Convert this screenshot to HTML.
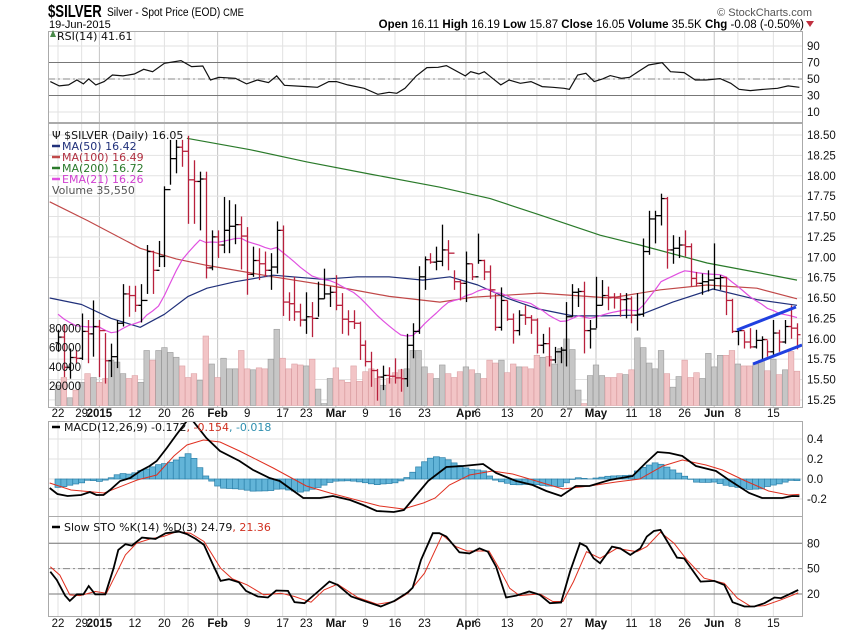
<!DOCTYPE html>
<html><head><meta charset="utf-8"><style>
html,body{margin:0;padding:0;background:#fff;}
svg{display:block;font-family:"Liberation Sans",sans-serif;}
.ax{font-size:11.5px;fill:#111;}
.lg{font-family:"DejaVu Sans",sans-serif;font-size:11px;}
</style></head><body>
<svg id="chart" width="850" height="633" viewBox="0 0 850 633" xmlns="http://www.w3.org/2000/svg">
<defs>
<clipPath id="cRsi"><rect x="48" y="31" width="754" height="91"/></clipPath>
<clipPath id="cMain"><rect x="48" y="123" width="754" height="284"/></clipPath>
<clipPath id="cMacd"><rect x="48" y="421" width="754" height="95"/></clipPath>
<clipPath id="cSto"><rect x="48" y="516" width="754" height="100"/></clipPath>
</defs>
<g>
<g transform="translate(48,0) scale(0.73,1)"><text x="0" y="17" font-size="18" font-weight="bold">$SILVER</text></g>
<g transform="translate(107,0) scale(0.85,1)"><text x="0" y="16" font-size="12">Silver - Spot Price (EOD) <tspan font-size="11">CME</tspan></text></g>
<text x="49" y="28" font-size="11">19-Jun-2015</text>
<text x="812" y="16" font-size="11" fill="#555" text-anchor="end">© StockCharts.com</text>
<text x="804" y="28" font-size="11.5" text-anchor="end"><tspan font-weight="bold">Open</tspan> 16.11 <tspan font-weight="bold">High</tspan> 16.19 <tspan font-weight="bold">Low</tspan> 15.87 <tspan font-weight="bold">Close</tspan> 16.05 <tspan font-weight="bold">Volume</tspan> 35.5K <tspan font-weight="bold">Chg</tspan> -0.08 (-0.50%)</text>
<polygon points="806,21 814,21 810,27" fill="#c03040"/>
</g>
<g id="layer"></g>
</svg>
<script>
const highs=[16.11,16.17,15.88,15.86,16.31,16.23,16.47,16.23,16.07,15.94,16.23,16.67,16.65,16.65,16.67,17.15,17.08,17.20,17.87,18.44,18.44,18.44,18.49,18.19,18.05,18.05,17.33,17.33,17.74,17.70,
17.65,17.50,17.37,17.13,17.11,17.07,17.05,17.44,17.39,16.57,16.76,16.43,16.57,16.45,16.70,16.86,16.64,16.78,16.56,16.35,16.35,16.21,15.98,15.84,15.63,15.67,15.65,15.76,15.63,16.06,16.19,
16.89,17.01,17.05,17.13,17.40,17.21,16.84,16.72,17.07,16.92,17.29,16.97,16.90,16.55,16.63,16.47,16.31,16.35,16.41,16.29,16.25,16.06,16.14,15.90,15.90,16.45,16.67,16.62,16.70,16.23,16.76,16.72,16.64,
16.56,16.56,16.56,16.52,16.56,17.23,17.57,17.57,17.78,17.74,17.27,17.25,17.33,17.17,16.82,16.80,16.84,17.17,16.78,16.76,16.49,16.11,16.09,16.13,16.11,16.03,15.98,16.23,16.11,16.23,16.41,16.19];
const lows=[15.84,15.53,15.51,15.70,15.74,15.70,15.78,15.53,15.45,15.53,15.64,16.15,16.27,16.33,16.20,16.55,16.55,16.88,16.88,17.89,18.03,18.11,17.41,17.41,17.33,16.74,16.84,16.99,17.05,17.05,
17.16,16.85,16.54,16.76,16.72,16.76,16.60,16.80,16.28,16.22,16.22,16.15,16.06,16.02,16.27,16.49,16.39,16.35,16.06,16.04,16.12,15.74,15.66,15.41,15.24,15.37,15.45,15.45,15.35,15.41,15.76,
16.06,16.60,16.92,16.84,16.89,16.84,16.60,16.47,16.45,16.72,16.92,16.72,16.49,16.10,16.10,16.22,15.94,16.04,16.17,16.06,15.82,15.82,15.66,15.70,15.70,15.66,16.27,16.39,15.82,15.88,16.13,16.41,16.35,
16.37,16.27,16.25,16.19,16.10,16.27,17.03,17.17,17.39,16.86,16.92,16.99,17.01,16.64,16.64,16.54,16.58,16.60,16.60,16.29,16.07,15.92,15.88,15.88,15.88,15.74,15.78,15.78,15.84,15.94,16.00,15.87];
const closes=[16.02,15.65,15.77,15.76,16.09,16.06,16.15,16.10,15.73,15.78,16.19,16.55,16.53,16.41,16.47,17.07,16.84,17.01,17.83,18.21,18.35,18.30,17.95,17.93,17.96,16.87,17.25,17.15,17.33,17.38,
17.40,17.26,16.79,16.96,16.92,16.84,16.88,17.33,16.45,16.43,16.33,16.23,16.27,16.25,16.49,16.55,16.57,16.41,16.24,16.21,16.19,15.92,15.72,15.61,15.53,15.55,15.54,15.52,15.51,15.92,16.09,
16.76,16.97,16.94,16.95,17.09,17.05,16.70,16.68,16.92,16.76,16.96,16.82,16.60,16.14,16.47,16.24,16.10,16.29,16.26,16.23,15.92,15.94,15.74,15.84,15.86,16.27,16.57,16.58,16.10,16.12,16.41,16.53,16.51,
16.50,16.48,16.49,16.29,16.30,17.07,17.47,17.51,17.72,17.09,17.11,17.15,17.13,16.74,16.68,16.70,16.72,16.74,16.75,16.47,16.09,16.10,15.96,15.90,15.98,15.99,15.84,16.07,15.96,16.15,16.13,16.05];
const volumes=[21,29,8,16,24,33,29,24,28,47,45,33,28,31,24,57,47,57,60,55,50,41,29,33,26,72,43,29,49,38,
38,57,38,37,39,38,48,79,49,38,43,42,41,48,17,2,28,39,26,24,41,25,35,38,28,21,28,34,37,38,57,
57,40,33,28,42,33,29,35,40,37,33,28,47,44,47,34,43,40,40,38,52,50,51,43,59,69,58,16,2,31,42,31,29,
29,33,32,37,70,60,44,38,57,33,19,30,47,29,34,28,54,40,52,52,57,43,41,41,43,47,36,48,32,37,56,35.55];
const ma50Idx=[-1.4,4,9,13.9,18,22,25.2,30,36.4,44.8,50.6,56,61.7,66.3,71,75.9,81,87.1,92,98.4,104,110.8,118.2,125];
const ma50Val=[16.50,16.42,16.25,16.14,16.30,16.52,16.62,16.70,16.78,16.73,16.76,16.76,16.72,16.76,16.66,16.50,16.37,16.28,16.28,16.29,16.45,16.61,16.48,16.41];
const ma100Idx=[-1.4,5,13.9,20,25.2,36.4,47.7,56,64.6,70.2,81.5,93.4,101.9,109.8,118.2,125];
const ma100Val=[17.68,17.45,17.11,16.98,16.90,16.76,16.63,16.52,16.45,16.51,16.56,16.50,16.60,16.66,16.62,16.49];
const ma200Idx=[21.8,32.5,42.1,52.8,64.6,73.1,81.5,91.7,98.4,109.8,117.1,125];
const ma200Val=[18.46,18.32,18.17,18.02,17.86,17.72,17.52,17.27,17.15,16.93,16.83,16.72];
const emaSeed=16.33;
const rsiIdx=[-1.3,0.2,1.8,3.2,4.3,5.2,6.4,7.8,9.2,11.0,12.9,14.5,16.0,18.0,20.8,22.6,24.5,25.8,27.2,30.0,31.9,33.7,35.6,37.0,38.3,42.1,43.9,45.8,47.1,49.0,51.8,54.1,56.0,57.3,58.7,60.6,62.4,64.3,65.7,68.9,69.8,71.2,72.1,73.5,74.9,76.3,78.2,80.0,81.9,83.7,85.6,86.5,87.9,89.3,90.7,92.1,93.4,95.3,96.7,98.1,99.9,102.2,103.6,105.9,107.8,109.6,112.0,113.8,115.2,117.1,119.4,121.7,123.5,125.4];
const rsiVal=[46.8,41.6,42.8,48.8,44.0,50.1,42.8,46.8,54.9,53.7,56.1,61.8,58.9,69.0,72.3,65.0,65.8,48.8,52.1,50.9,44.0,48.8,45.6,53.7,42.4,40.8,40.0,46.8,46.8,42.8,38.7,31.5,33.9,32.7,38.7,53.7,63.8,64.2,66.2,53.7,58.9,56.1,58.9,50.9,42.8,48.8,44.8,46.8,40.8,40.0,38.7,37.5,54.9,56.9,46.8,50.1,54.1,50.9,52.1,58.9,67.0,69.8,58.9,57.7,48.8,48.8,50.5,44.8,37.5,35.9,37.5,38.7,41.6,40.0];
const macdIdx=[-1.4,-0.1,1.6,3.9,5.4,6.5,7.7,8.8,10.5,12.2,13.9,15.5,16.7,18.4,20.0,22.3,25.1,27.4,30.7,33.0,35.8,37.5,41.5,44.3,46.5,49.4,51.6,53.9,56.8,58.5,60.2,62.6,65.7,68.5,70.2,71.9,74.1,77.5,80.3,82.6,85.1,87.6,89.9,93.3,97.2,99.4,101.4,103.4,105.6,107.9,111.3,113.5,116.9,119.1,122.5,124.2,125.4];
const macdVal=[-0.09,-0.15,-0.17,-0.16,-0.13,-0.16,-0.16,-0.11,-0.02,0.01,0.08,0.13,0.18,0.31,0.44,0.62,0.41,0.28,0.18,0.09,0.01,-0.02,-0.19,-0.19,-0.17,-0.21,-0.26,-0.32,-0.33,-0.31,-0.19,-0.02,0.12,0.13,0.14,0.15,0.06,-0.02,-0.06,-0.12,-0.17,-0.07,-0.07,-0.01,0.03,0.16,0.27,0.26,0.23,0.13,0.08,-0.01,-0.14,-0.19,-0.19,-0.17,-0.172];
const sigIdx=[-1.4,2.2,7.8,13.4,16.7,19.6,21.8,24.6,27.4,30.7,36.4,42.0,46.0,50.5,54.4,58.4,61.8,63.8,66.2,69.6,73.5,76.9,80.9,85.4,89.9,94.4,98.4,102.3,105.6,109.6,112.4,116.3,120.2,123.6,125.4];
const sigVal=[-0.04,-0.11,-0.14,-0.01,0.04,0.23,0.34,0.39,0.37,0.28,0.11,-0.07,-0.14,-0.21,-0.27,-0.30,-0.24,-0.19,-0.06,0.04,0.08,0.05,-0.02,-0.10,-0.07,-0.03,0.00,0.13,0.19,0.14,0.09,-0.02,-0.12,-0.16,-0.154];
const kIdx=[-1.3,-0.2,1.2,2.0,3.2,4.3,5.2,6.3,8.0,9.4,10.2,11.4,12.5,14.2,16.5,18.2,20.5,21.9,23.3,24.7,26.1,27.5,28.9,30.6,31.8,33.8,35.5,36.9,38.9,40.0,41.7,44.0,45.9,47.3,49.6,52.4,54.6,56.9,59.2,60.0,61.4,63.4,64.5,65.7,67.9,69.6,71.3,72.7,74.1,75.8,77.5,79.7,81.5,83.2,85.1,86.6,88.3,89.4,90.6,91.7,93.7,95.1,96.8,98.5,99.6,100.8,101.9,104.7,105.9,108.7,111.0,112.7,114.1,116.1,117.8,119.5,121.2,122.3,123.5,125.2];
const kVal=[46.4,36.6,18.1,11.8,19.7,19.7,29.5,19.7,19.7,50.5,72.2,78.9,77.3,86.8,85.2,91.9,93.9,90.7,85.2,78.1,56.4,35.5,37.5,33.9,23.7,17.0,15.8,24.1,23.7,10.3,9.1,22.9,34.7,30.8,17.0,10.3,5.2,11.8,22.1,27.6,60.3,91.9,91.9,87.9,69.3,68.1,74.0,70.1,52.3,15.8,18.1,22.9,19.0,9.1,9.9,46.4,80.1,76.1,62.3,56.4,76.1,74.0,66.3,74.0,87.9,94.5,95.8,63.1,62.3,34.7,35.5,30.8,10.3,5.2,5.2,9.1,15.8,15.1,19.0,24.79];
const dIdx=[-1.3,0.3,2.0,3.7,6.3,8.2,9.9,11.4,13.3,15.6,17.8,20.1,22.4,24.7,27.5,29.5,32.0,34.8,37.7,40.0,42.8,45.0,47.3,50.7,54.0,56.9,59.2,62.0,65.0,67.3,69.2,71.3,72.9,74.6,76.4,78.1,81.5,83.7,85.4,87.2,89.4,91.7,94.5,97.9,99.6,101.9,104.2,106.4,109.3,112.7,114.9,117.2,119.5,122.3,125.2];
const dVal=[52.3,42.4,18.9,18.1,22.9,20.9,44.6,66.3,80.1,85.2,88.0,93.9,91.9,82.1,50.5,37.9,30.8,19.0,20.9,17.0,10.3,24.9,31.6,15.8,7.9,11.1,20.9,44.6,90.0,76.1,70.9,70.9,70.9,50.5,26.8,18.1,20.1,11.1,11.1,34.7,70.1,62.3,74.0,70.1,76.1,93.1,80.1,60.3,38.7,32.7,15.1,5.2,6.3,13.1,21.36];
const tickIdx=[0,4,7,13,18,22,27,32,38,42,47,52,57,62,69,71,76,81,86,91,97,101,106,111,115,121];
const tickLbl=["22","29","2015","12","20","26","Feb","9","17","23","Mar","9","16","23","Apr","6","13","20","27","May","11","18","26","Jun","8","15"];
const tickMajor=[0,0,1,0,0,0,1,0,0,0,1,0,0,0,1,0,0,0,0,1,0,0,0,1,0,0];
const priceTicks=[18.50,18.25,18.00,17.75,17.50,17.25,17.00,16.75,16.50,16.25,16.00,15.75,15.50,15.25];
const volTicks=[80000,60000,40000,20000];
const rsiTicks=[90,70,50,30,10];
const macdTicks=[0.4,0.2,0.0,-0.2];
const stoTicks=[80,50,20];

const NS="http://www.w3.org/2000/svg";
const L=48,R=802;
const X=i=>58+i*5.912;
const PY=p=>135+(18.5-p)*81.5;
const VY=v=>405.5-v*0.965;
const RY=v=>46+(90-v)*0.825;
const MY=v=>479-v*100;
const SY=v=>594-(v-20)*0.845;
const layer=document.getElementById('layer');
function mk(tag,attrs,parent){const e=document.createElementNS(NS,tag);for(const k in attrs)e.setAttribute(k,attrs[k]);(parent||layer).appendChild(e);return e;}
function interp(xs,ys,x){if(x<=xs[0])return ys[0];for(let j=1;j<xs.length;j++){if(x<=xs[j]){const t=(x-xs[j-1])/(xs[j]-xs[j-1]);return ys[j-1]+t*(ys[j]-ys[j-1]);}}return ys[ys.length-1];}
function pts(xs,ys,fy){return xs.map((x,j)=>X(x).toFixed(1)+','+fy(ys[j]).toFixed(1)).join(' ');}

const panels=[["rsi-panel",31,91,"cRsi"],["price-panel",123,284,"cMain"],["macd-panel",421,95,"cMacd"],["sto-panel",516,100,"cSto"]];
const pg={};
panels.forEach(p=>{
  const r=mk('rect',{x:L,y:p[1],width:R-L,height:p[2],fill:'#fff',stroke:'none'});
  
  
  const g=mk('g',{'clip-path':'url(#'+p[3]+')'});
  
  
  pg[p[0]]=g;
  tickIdx.forEach((ti,j)=>{
    const v=mk('line',{x1:X(ti),x2:X(ti),y1:p[1],y2:p[1]+p[2],stroke:tickMajor[j]?'#c4c4c4':'#e2e2e2','stroke-width':1},g);
    
    
  });
});
function hgrid(g,ticks,fy,fmt,name){
  ticks.forEach(t=>{
    const y=fy(t);
    const l=mk('line',{x1:L,x2:R,y1:y,y2:y,stroke:'#e2e2e2'},g);
    
    
    const tx=mk('text',{x:807,y:y+4,class:'ax'});
    tx.textContent=fmt(t);
    
    
  });
}
hgrid(pg['rsi-panel'],rsiTicks,RY,t=>String(t),'rsi-y');
hgrid(pg['price-panel'],priceTicks,PY,t=>t.toFixed(2),'price-y');
hgrid(pg['macd-panel'],macdTicks,MY,t=>t.toFixed(1),'macd-y');
hgrid(pg['sto-panel'],stoTicks,SY,t=>String(t),'sto-y');

[[70,'solid'],[30,'solid'],[50,'dash']].forEach(a=>{
  const l=mk('line',{x1:L,x2:R,y1:RY(a[0]),y2:RY(a[0]),stroke:a[1]==='dash'?'#888':'#777','stroke-width':1,'stroke-dasharray':a[1]==='dash'?'7,3,2,3':'none'},pg['rsi-panel']);
  
  
});
const rsiLine=mk('polyline',{points:pts(rsiIdx,rsiVal,RY),fill:'none',stroke:'#111','stroke-width':1.2},pg['rsi-panel']);



const gp=pg['price-panel'];
volumes.forEach((v,i)=>{
  const up=i===0?true:closes[i]>=closes[i-1];
  const y=VY(v);
  const b=mk('rect',{x:X(i)-2.8,y:y,width:5.6,height:405.5-y,fill:up?'#c6c6c6':'#f2c4c6',stroke:up?'#9a9a9a':'#dca0a4','stroke-width':0.6},gp);
  
  
});
volTicks.forEach(t=>{
  const tx=mk('text',{x:49,y:VY(t/1000)+4,class:'ax'});
  tx.textContent=String(t);
  
  
});
function maLine(xs,ys,col,name){const l=mk('polyline',{points:pts(xs,ys,PY),fill:'none',stroke:col,'stroke-width':1.2,'stroke-linejoin':'round'},gp);
  
  }
maLine(ma200Idx,ma200Val,'#2a7a2a','ma200-line');
maLine(ma100Idx,ma100Val,'#c04848','ma100-line');
maLine(ma50Idx,ma50Val,'#20307a','ma50-line');
const k=2/22;let e=emaSeed;const emaIdx=[],emaVal=[];
closes.forEach((c,i)=>{e=c*k+e*(1-k);emaIdx.push(i);emaVal.push(e);});
maLine(emaIdx,emaVal,'#e050e0','ema21-line');
closes.forEach((c,i)=>{
  const o=i===0?15.95:closes[i-1];
  const up=i===0?true:c>=closes[i-1];
  const col=up?'#000':'#b8203c';
  const g=mk('g',{stroke:col,'stroke-width':1.3},gp);
  
  
  const x=Math.round(X(i))+0.5;
  mk('line',{x1:x,x2:x,y1:PY(highs[i]),y2:PY(lows[i])},g);
  mk('line',{x1:x-3,x2:x,y1:PY(o),y2:PY(o)},g);
  mk('line',{x1:x,x2:x+3,y1:PY(c),y2:PY(c)},g);
});
const t1=mk('line',{x1:737,y1:330,x2:796,y2:307,stroke:'#2040e0','stroke-width':3},gp);


const t2=mk('line',{x1:753,y1:364,x2:802,y2:345,stroke:'#2040e0','stroke-width':3},gp);



const gm=pg['macd-panel'];
closes.forEach((c,i)=>{
  const h=interp(macdIdx,macdVal,i)-interp(sigIdx,sigVal,i);
  const y0=MY(0),y1=MY(h);
  const b=mk('rect',{x:X(i)-3,y:Math.min(y0,y1),width:6,height:Math.abs(y1-y0),fill:'#62b4d8',stroke:'#2a7fa8','stroke-width':0.7},gm);
  
  
});
const sl=mk('polyline',{points:pts(sigIdx,sigVal,MY),fill:'none',stroke:'#e03020','stroke-width':1},gm);


const ml=mk('polyline',{points:pts(macdIdx,macdVal,MY),fill:'none',stroke:'#000','stroke-width':1.8},gm);



const gs=pg['sto-panel'];
[[80,'solid'],[20,'solid'],[50,'dash']].forEach(a=>{
  const l=mk('line',{x1:L,x2:R,y1:SY(a[0]),y2:SY(a[0]),stroke:a[1]==='dash'?'#888':'#777','stroke-dasharray':a[1]==='dash'?'7,3,2,3':'none'},gs);
  
  
});
const dl=mk('polyline',{points:pts(dIdx,dVal,SY),fill:'none',stroke:'#e03020','stroke-width':1},gs);


const kl=mk('polyline',{points:pts(kIdx,kVal,SY),fill:'none',stroke:'#000','stroke-width':1.8},gs);



panels.forEach(p=>{
  const r=mk('rect',{x:L+0.5,y:p[1]+0.5,width:R-L,height:p[2],fill:'none',stroke:'#aaa'});
  
  
});
[417,627].forEach(yy=>{
  tickIdx.forEach((ti,j)=>{
    const tx=mk('text',{x:X(ti),y:yy,class:'ax','text-anchor':'middle','font-weight':tickMajor[j]?'bold':'normal'});
    tx.textContent=tickLbl[j];
    
    
  });
});
function legend(x,y,parts,name){
  const t=mk('text',{x:x,y:y,class:'lg'});
  
  
  parts.forEach(p=>{const s=mk('tspan',{fill:p[1]},t);s.textContent=p[0];});
}
const ic=mk('polygon',{points:'50,37 53,30 56,37',fill:'#4a8a4a'});


legend(57,40,[["RSI(14) 41.61","#111"]],'rsi-legend');
const lgItems=[["\u03A8 $SILVER (Daily) 16.05","#111",null],["MA(50) 16.42","#20307a","#20307a"],["MA(100) 16.49","#b03040","#c04848"],["MA(200) 16.72","#2a7a2a","#2a7a2a"],["EMA(21) 16.26","#d040d0","#e050e0"],["Volume 35,550","#555",null]];
lgItems.forEach((it,j)=>{
  const y=139+j*11;
  if(it[2]){const l=mk('line',{x1:52,x2:60,y1:y-4,y2:y-4,stroke:it[2],'stroke-width':2.5});
    
    }
  legend(it[2]?62:52,y,[[it[0],it[1]]],'legend-entry');
});
const ml2=mk('line',{x1:52,x2:60,y1:427,y2:427,stroke:'#000','stroke-width':2.5});


legend(64,431,[["MACD(12,26,9) -0.172","#111"],[", -0.154","#d03020"],[", -0.018","#3090b0"]],'macd-legend');
const sl2=mk('line',{x1:52,x2:60,y1:527,y2:527,stroke:'#000','stroke-width':2.5});


legend(64,531,[["Slow STO %K(14) %D(3) 24.79","#111"],[", 21.36","#d03020"]],'sto-legend');
</script>
</body></html>
